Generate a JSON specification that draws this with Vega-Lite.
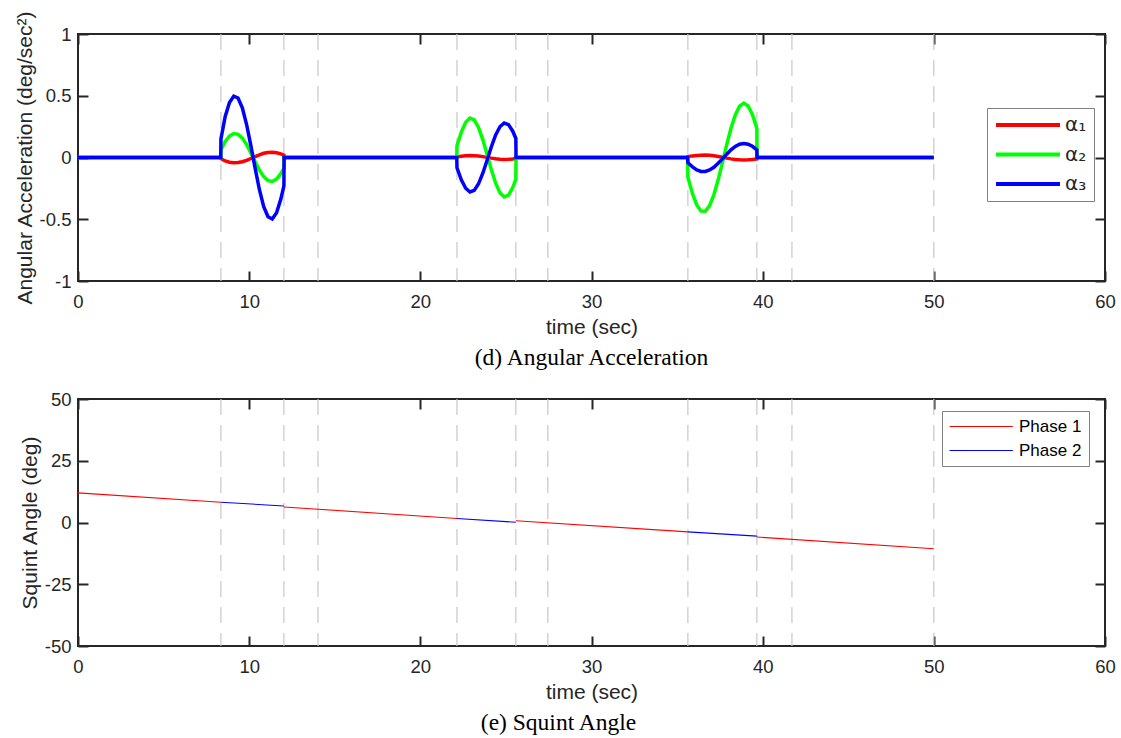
{
  "$schema": "https://vega.github.io/schema/vega-lite/v6.json",
  "background": "white",
  "padding": {"left": 13, "top": 9, "right": 15, "bottom": 4},
  "spacing": 19,
  "resolve": {"scale": {"color": "independent"}, "legend": {"color": "independent"}},
  "datasets": {
    "phases": [{"t": 8.35}, {"t": 12.03}, {"t": 14.02}, {"t": 22.14}, {"t": 25.58}, {"t": 27.45}, {"t": 35.63}, {"t": 39.66}, {"t": 41.71}, {"t": 50.0}],
    "acc": [
      {"t": 0, "series": "α₁", "v": 0}, {"t": 8.34, "series": "α₁", "v": 0}, {"t": 8.35, "series": "α₁", "v": -0.01}, {"t": 8.6, "series": "α₁", "v": -0.028}, {"t": 8.85, "series": "α₁", "v": -0.038}, {"t": 9.1, "series": "α₁", "v": -0.042}, {"t": 9.35, "series": "α₁", "v": -0.041}, {"t": 9.6, "series": "α₁", "v": -0.034}, {"t": 9.85, "series": "α₁", "v": -0.023}, {"t": 10.1, "series": "α₁", "v": -0.008}, {"t": 10.35, "series": "α₁", "v": 0.007}, {"t": 10.6, "series": "α₁", "v": 0.022}, {"t": 10.85, "series": "α₁", "v": 0.034}, {"t": 11.1, "series": "α₁", "v": 0.041}, {"t": 11.35, "series": "α₁", "v": 0.042}, {"t": 11.6, "series": "α₁", "v": 0.038}, {"t": 11.85, "series": "α₁", "v": 0.029}, {"t": 12.03, "series": "α₁", "v": 0.019}, {"t": 12.04, "series": "α₁", "v": 0},
      {"t": 22.13, "series": "α₁", "v": 0}, {"t": 22.14, "series": "α₁", "v": 0.005}, {"t": 22.4, "series": "α₁", "v": 0.01}, {"t": 22.65, "series": "α₁", "v": 0.014}, {"t": 22.9, "series": "α₁", "v": 0.016}, {"t": 23.15, "series": "α₁", "v": 0.015}, {"t": 23.4, "series": "α₁", "v": 0.012}, {"t": 23.65, "series": "α₁", "v": 0.007}, {"t": 23.9, "series": "α₁", "v": 0.001}, {"t": 24.15, "series": "α₁", "v": -0.005}, {"t": 24.4, "series": "α₁", "v": -0.01}, {"t": 24.65, "series": "α₁", "v": -0.014}, {"t": 24.9, "series": "α₁", "v": -0.016}, {"t": 25.15, "series": "α₁", "v": -0.015}, {"t": 25.4, "series": "α₁", "v": -0.012}, {"t": 25.58, "series": "α₁", "v": -0.009}, {"t": 25.59, "series": "α₁", "v": 0},
      {"t": 35.62, "series": "α₁", "v": 0}, {"t": 35.63, "series": "α₁", "v": 0.007}, {"t": 35.9, "series": "α₁", "v": 0.013}, {"t": 36.15, "series": "α₁", "v": 0.017}, {"t": 36.4, "series": "α₁", "v": 0.019}, {"t": 36.65, "series": "α₁", "v": 0.02}, {"t": 36.9, "series": "α₁", "v": 0.018}, {"t": 37.15, "series": "α₁", "v": 0.014}, {"t": 37.4, "series": "α₁", "v": 0.008}, {"t": 37.65, "series": "α₁", "v": 0.002}, {"t": 37.9, "series": "α₁", "v": -0.005}, {"t": 38.15, "series": "α₁", "v": -0.011}, {"t": 38.4, "series": "α₁", "v": -0.016}, {"t": 38.65, "series": "α₁", "v": -0.019}, {"t": 38.9, "series": "α₁", "v": -0.02}, {"t": 39.15, "series": "α₁", "v": -0.019}, {"t": 39.4, "series": "α₁", "v": -0.016}, {"t": 39.66, "series": "α₁", "v": -0.011}, {"t": 39.67, "series": "α₁", "v": 0}, {"t": 50, "series": "α₁", "v": 0},

      {"t": 0, "series": "α₂", "v": 0}, {"t": 8.34, "series": "α₂", "v": 0}, {"t": 8.35, "series": "α₂", "v": 0.06}, {"t": 8.6, "series": "α₂", "v": 0.13}, {"t": 8.85, "series": "α₂", "v": 0.174}, {"t": 9.1, "series": "α₂", "v": 0.194}, {"t": 9.35, "series": "α₂", "v": 0.188}, {"t": 9.6, "series": "α₂", "v": 0.157}, {"t": 9.85, "series": "α₂", "v": 0.104}, {"t": 10.1, "series": "α₂", "v": 0.037}, {"t": 10.35, "series": "α₂", "v": -0.034}, {"t": 10.6, "series": "α₂", "v": -0.102}, {"t": 10.85, "series": "α₂", "v": -0.155}, {"t": 11.1, "series": "α₂", "v": -0.187}, {"t": 11.35, "series": "α₂", "v": -0.194}, {"t": 11.6, "series": "α₂", "v": -0.175}, {"t": 11.85, "series": "α₂", "v": -0.131}, {"t": 12.03, "series": "α₂", "v": -0.089}, {"t": 12.04, "series": "α₂", "v": 0},
      {"t": 22.13, "series": "α₂", "v": 0}, {"t": 22.14, "series": "α₂", "v": 0.095}, {"t": 22.4, "series": "α₂", "v": 0.208}, {"t": 22.65, "series": "α₂", "v": 0.285}, {"t": 22.9, "series": "α₂", "v": 0.319}, {"t": 23.15, "series": "α₂", "v": 0.304}, {"t": 23.4, "series": "α₂", "v": 0.243}, {"t": 23.65, "series": "α₂", "v": 0.145}, {"t": 23.9, "series": "α₂", "v": 0.025}, {"t": 24.15, "series": "α₂", "v": -0.099}, {"t": 24.4, "series": "α₂", "v": -0.208}, {"t": 24.65, "series": "α₂", "v": -0.285}, {"t": 24.9, "series": "α₂", "v": -0.319}, {"t": 25.15, "series": "α₂", "v": -0.304}, {"t": 25.4, "series": "α₂", "v": -0.243}, {"t": 25.58, "series": "α₂", "v": -0.176}, {"t": 25.59, "series": "α₂", "v": 0},
      {"t": 35.62, "series": "α₂", "v": 0}, {"t": 35.63, "series": "α₂", "v": -0.16}, {"t": 35.9, "series": "α₂", "v": -0.293}, {"t": 36.15, "series": "α₂", "v": -0.384}, {"t": 36.4, "series": "α₂", "v": -0.433}, {"t": 36.65, "series": "α₂", "v": -0.435}, {"t": 36.9, "series": "α₂", "v": -0.39}, {"t": 37.15, "series": "α₂", "v": -0.302}, {"t": 37.4, "series": "α₂", "v": -0.181}, {"t": 37.65, "series": "α₂", "v": -0.041}, {"t": 37.9, "series": "α₂", "v": 0.104}, {"t": 38.15, "series": "α₂", "v": 0.237}, {"t": 38.4, "series": "α₂", "v": 0.345}, {"t": 38.65, "series": "α₂", "v": 0.415}, {"t": 38.9, "series": "α₂", "v": 0.44}, {"t": 39.15, "series": "α₂", "v": 0.417}, {"t": 39.4, "series": "α₂", "v": 0.349}, {"t": 39.66, "series": "α₂", "v": 0.237}, {"t": 39.67, "series": "α₂", "v": 0}, {"t": 50, "series": "α₂", "v": 0},

      {"t": 0, "series": "α₃", "v": 0}, {"t": 8.34, "series": "α₃", "v": 0}, {"t": 8.35, "series": "α₃", "v": 0.15}, {"t": 8.6, "series": "α₃", "v": 0.332}, {"t": 8.85, "series": "α₃", "v": 0.445}, {"t": 9.1, "series": "α₃", "v": 0.497}, {"t": 9.35, "series": "α₃", "v": 0.482}, {"t": 9.6, "series": "α₃", "v": 0.402}, {"t": 9.85, "series": "α₃", "v": 0.267}, {"t": 10.1, "series": "α₃", "v": 0.096}, {"t": 10.35, "series": "α₃", "v": -0.088}, {"t": 10.6, "series": "α₃", "v": -0.261}, {"t": 10.85, "series": "α₃", "v": -0.398}, {"t": 11.1, "series": "α₃", "v": -0.48}, {"t": 11.35, "series": "α₃", "v": -0.498}, {"t": 11.6, "series": "α₃", "v": -0.448}, {"t": 11.85, "series": "α₃", "v": -0.337}, {"t": 12.03, "series": "α₃", "v": -0.229}, {"t": 12.04, "series": "α₃", "v": 0},
      {"t": 22.13, "series": "α₃", "v": 0}, {"t": 22.14, "series": "α₃", "v": -0.083}, {"t": 22.4, "series": "α₃", "v": -0.182}, {"t": 22.65, "series": "α₃", "v": -0.249}, {"t": 22.9, "series": "α₃", "v": -0.279}, {"t": 23.15, "series": "α₃", "v": -0.266}, {"t": 23.4, "series": "α₃", "v": -0.213}, {"t": 23.65, "series": "α₃", "v": -0.127}, {"t": 23.9, "series": "α₃", "v": -0.022}, {"t": 24.15, "series": "α₃", "v": 0.087}, {"t": 24.4, "series": "α₃", "v": 0.182}, {"t": 24.65, "series": "α₃", "v": 0.249}, {"t": 24.9, "series": "α₃", "v": 0.279}, {"t": 25.15, "series": "α₃", "v": 0.266}, {"t": 25.4, "series": "α₃", "v": 0.213}, {"t": 25.58, "series": "α₃", "v": 0.154}, {"t": 25.59, "series": "α₃", "v": 0},
      {"t": 35.62, "series": "α₃", "v": 0}, {"t": 35.63, "series": "α₃", "v": -0.042}, {"t": 35.9, "series": "α₃", "v": -0.076}, {"t": 36.15, "series": "α₃", "v": -0.1}, {"t": 36.4, "series": "α₃", "v": -0.113}, {"t": 36.65, "series": "α₃", "v": -0.113}, {"t": 36.9, "series": "α₃", "v": -0.101}, {"t": 37.15, "series": "α₃", "v": -0.079}, {"t": 37.4, "series": "α₃", "v": -0.047}, {"t": 37.65, "series": "α₃", "v": -0.011}, {"t": 37.9, "series": "α₃", "v": 0.027}, {"t": 38.15, "series": "α₃", "v": 0.062}, {"t": 38.4, "series": "α₃", "v": 0.09}, {"t": 38.65, "series": "α₃", "v": 0.108}, {"t": 38.9, "series": "α₃", "v": 0.114}, {"t": 39.15, "series": "α₃", "v": 0.108}, {"t": 39.4, "series": "α₃", "v": 0.091}, {"t": 39.66, "series": "α₃", "v": 0.062}, {"t": 39.67, "series": "α₃", "v": 0}, {"t": 50, "series": "α₃", "v": 0}
    ],
    "squint": [
      {"t": 0, "angle": 12.0, "phase": "Phase 1", "seg": "s1"}, {"t": 8.35, "angle": 8.2, "phase": "Phase 1", "seg": "s1"},
      {"t": 8.35, "angle": 8.2, "phase": "Phase 2", "seg": "s2"}, {"t": 12.03, "angle": 6.7, "phase": "Phase 2", "seg": "s2"},
      {"t": 12.03, "angle": 6.3, "phase": "Phase 1", "seg": "s3"}, {"t": 22.14, "angle": 1.6, "phase": "Phase 1", "seg": "s3"},
      {"t": 22.14, "angle": 1.6, "phase": "Phase 2", "seg": "s4"}, {"t": 25.58, "angle": 0.1, "phase": "Phase 2", "seg": "s4"},
      {"t": 25.58, "angle": 0.7, "phase": "Phase 1", "seg": "s5"}, {"t": 35.63, "angle": -3.8, "phase": "Phase 1", "seg": "s5"},
      {"t": 35.63, "angle": -3.8, "phase": "Phase 2", "seg": "s6"}, {"t": 39.66, "angle": -5.5, "phase": "Phase 2", "seg": "s6"},
      {"t": 39.66, "angle": -5.9, "phase": "Phase 1", "seg": "s7"}, {"t": 50, "angle": -10.6, "phase": "Phase 1", "seg": "s7"}
    ]
  },
  "config": {
    "font": "Liberation Sans",
    "view": {"stroke": "#262626", "strokeWidth": 2},
    "axis": {
      "grid": false, "domain": false, "labelFlush": false,
      "labelFont": "Liberation Sans", "labelFontSize": 18.5, "labelColor": "#262626",
      "titleFont": "Liberation Sans", "titleFontSize": 21, "titleFontWeight": "normal", "titleColor": "#262626",
      "tickColor": "#262626", "tickWidth": 2, "tickSize": -10
    },
    "axisX": {"labelPadding": 21, "titlePadding": 6},
    "axisY": {"labelPadding": 17, "titlePadding": 4},
    "title": {"font": "Liberation Serif", "fontSize": 23.5, "fontWeight": "normal", "color": "black", "orient": "bottom", "offset": 8, "anchor": "middle", "frame": "group"}
  },
  "vconcat": [
    {
      "width": 1027, "height": 247,
      "title": {"text": "(d) Angular Acceleration"},
      "layer": [
        {
          "data": {"name": "phases"},
          "mark": {"type": "rule", "color": "#c8c8c8", "strokeDash": [16, 10], "strokeWidth": 1.2},
          "encoding": {
            "x": {"field": "t", "type": "quantitative", "scale": {"domain": [0, 60], "nice": false},
                  "axis": {"orient": "top", "labels": false, "title": null, "values": [0, 10, 20, 30, 40, 50, 60]}}
          }
        },
        {
          "data": {"name": "acc"},
          "mark": {"type": "line", "strokeWidth": 3.5, "clip": true},
          "encoding": {
            "x": {"field": "t", "type": "quantitative", "scale": {"domain": [0, 60], "nice": false},
                  "axis": {"orient": "bottom", "title": "time (sec)", "values": [0, 10, 20, 30, 40, 50, 60], "labelExpr": "toString(datum.value)"}},
            "y": {"field": "v", "type": "quantitative", "scale": {"domain": [-1, 1], "nice": false},
                  "axis": {"orient": "left", "title": "Angular Acceleration (deg/sec²)", "values": [-1, -0.5, 0, 0.5, 1], "labelExpr": "toString(datum.value)"}},
            "color": {"field": "series", "type": "nominal",
                      "scale": {"domain": ["α₁", "α₂", "α₃"], "range": ["#ff0000", "#00ff00", "#0000ff"]},
                      "legend": {"orient": "none", "legendX": 909, "legendY": 74, "title": null, "symbolType": "M-1,0H7", "symbolSize": 256, "symbolStrokeWidth": 4, "labelFont": "DejaVu Sans", "labelFontSize": 20, "labelColor": "#262626", "strokeColor": "#808080", "fillColor": "white", "padding": 7, "rowPadding": 9.5, "labelOffset": 51}}
          }
        },
        {
          "data": {"values": []},
          "mark": "point",
          "encoding": {
            "y": {"field": "v", "type": "quantitative", "scale": {"domain": [-1, 1], "nice": false},
                  "axis": {"orient": "right", "labels": false, "title": null, "values": [-1, -0.5, 0, 0.5, 1]}}
          }
        }
      ]
    },
    {
      "width": 1027, "height": 247,
      "title": {"text": "(e) Squint Angle", "dx": -33},
      "layer": [
        {
          "data": {"name": "phases"},
          "mark": {"type": "rule", "color": "#c8c8c8", "strokeDash": [16, 10], "strokeWidth": 1.2},
          "encoding": {
            "x": {"field": "t", "type": "quantitative", "scale": {"domain": [0, 60], "nice": false},
                  "axis": {"orient": "top", "labels": false, "title": null, "values": [0, 10, 20, 30, 40, 50, 60]}}
          }
        },
        {
          "data": {"name": "squint"},
          "mark": {"type": "line", "strokeWidth": 1.1},
          "encoding": {
            "x": {"field": "t", "type": "quantitative", "scale": {"domain": [0, 60], "nice": false},
                  "axis": {"orient": "bottom", "title": "time (sec)", "values": [0, 10, 20, 30, 40, 50, 60], "labelExpr": "toString(datum.value)"}},
            "y": {"field": "angle", "type": "quantitative", "scale": {"domain": [-50, 50], "nice": false},
                  "axis": {"orient": "left", "title": "Squint Angle (deg)", "values": [-50, -25, 0, 25, 50], "labelExpr": "toString(datum.value)"}},
            "detail": {"field": "seg", "type": "nominal"},
            "color": {"field": "phase", "type": "nominal",
                      "scale": {"domain": ["Phase 1", "Phase 2"], "range": ["#ff0000", "#0000ff"]},
                      "legend": {"orient": "none", "legendX": 864, "legendY": 12, "title": null, "symbolType": "M-1,0H7", "symbolSize": 250, "symbolStrokeWidth": 1, "labelFont": "Liberation Sans", "labelFontSize": 17, "labelColor": "black", "strokeColor": "#808080", "fillColor": "white", "padding": 7, "rowPadding": 6, "labelOffset": 53}}
          }
        },
        {
          "data": {"values": []},
          "mark": "point",
          "encoding": {
            "y": {"field": "angle", "type": "quantitative", "scale": {"domain": [-50, 50], "nice": false},
                  "axis": {"orient": "right", "labels": false, "title": null, "values": [-50, -25, 0, 25, 50]}}
          }
        }
      ]
    }
  ]
}
